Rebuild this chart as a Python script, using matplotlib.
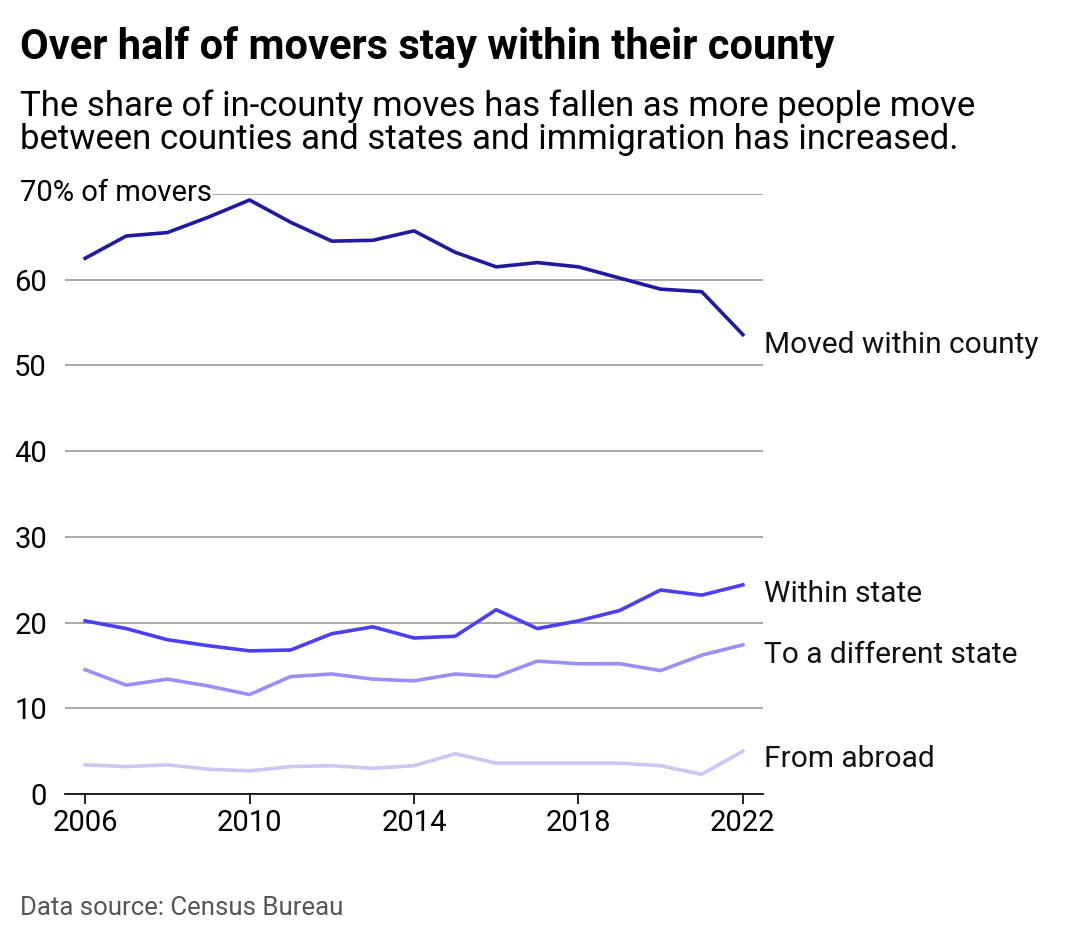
import matplotlib
matplotlib.use("Agg")
import matplotlib.pyplot as plt

plt.rcParams['font.family'] = ['Roboto', 'DejaVu Sans']

years = list(range(2006, 2023))
within_county = [62.5,65.1,65.5,67.3,69.3,66.7,64.5,64.6,65.7,63.2,61.5,62.0,61.5,60.2,58.9,58.6,53.6]
within_state = [20.2,19.3,18.0,17.3,16.7,16.8,18.7,19.5,18.2,18.4,21.5,19.3,20.2,21.4,23.8,23.2,24.4]
diff_state = [14.5,12.7,13.4,12.6,11.6,13.7,14.0,13.4,13.2,14.0,13.7,15.5,15.2,15.2,14.4,16.2,17.4]
abroad = [3.4,3.2,3.4,2.9,2.7,3.2,3.3,3.0,3.3,4.7,3.6,3.6,3.6,3.6,3.3,2.3,5.0]
series = [("Moved within county", within_county, "#1f1a9e"),
          ("Within state", within_state, "#4b3ff0"),
          ("To a different state", diff_state, "#9b8ff5"),
          ("From abroad", abroad, "#cdc6f2")]
label_y = [52.4, 23.3, 16.2, 4.1]
yticks = [0,10,20,30,40,50,60,70]
xticks = [2006,2010,2014,2018,2022]

fig = plt.figure(figsize=(10.8, 9.42), dpi=100)
ax = fig.add_axes([65/1080, 148/942, 698/1080, 600/942])
for (name, vals, c), ly in zip(series, label_y):
    ax.plot(years, vals, color=c, lw=2.6, solid_joinstyle='round', zorder=3)
    ax.text(2022.52, ly, name, fontsize=21.5, va='center', ha='left', color='#111111')
ax.set_xlim(2005.51, 2022.49)
ax.set_ylim(0, 70)
ax.set_yticks(yticks)
ax.set_yticklabels([str(t) for t in yticks[:-1]] + [""])
ax.set_xticks(xticks)
ax.set_xticklabels([str(t) for t in xticks])
ax.tick_params(axis='y', length=0, labelsize=21, pad=13)
ax.tick_params(axis='x', length=7, width=1.2, labelsize=21, pad=4)
ax.grid(axis='y', color='#999999', lw=1.2)
ax.set_axisbelow(True)
for s in ['top','right','left']:
    ax.spines[s].set_visible(False)
ax.spines['bottom'].set_linewidth(1.2)
fig.text(20/1080, 1-193/942, "70% of movers", fontsize=21, va='center', ha='left',
         bbox=dict(facecolor='white', edgecolor='none', pad=1))
fig.text(20/1080, 1-47/942, "Over half of movers stay within their county", fontsize=30,
         fontweight='bold', va='center', ha='left')
fig.text(20/1080, 1-123/942, "The share of in-county moves has fallen as more people move\nbetween counties and states and immigration has increased.",
         fontsize=25, va='center', ha='left', linespacing=1.0)
fig.text(20/1080, 1-908/942, "Data source: Census Bureau", fontsize=18.5, color='#555555', va='center', ha='left')
fig.savefig("out.png", dpi=100, facecolor='white')
